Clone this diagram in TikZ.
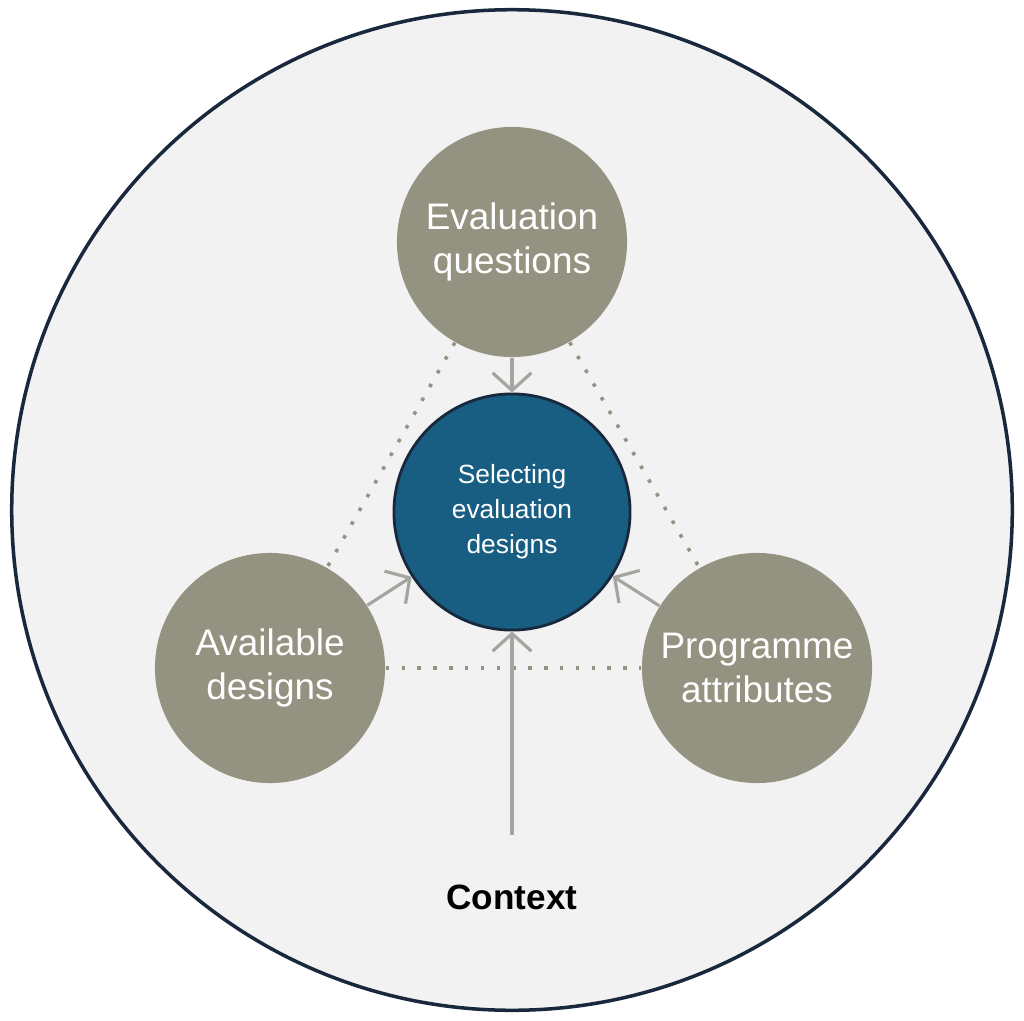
\documentclass[tikz,border=0pt]{standalone}
\usepackage{fontspec}
\setmainfont{Liberation Sans}
\usetikzlibrary{arrows.meta}
\begin{document}
\begin{tikzpicture}[
    x=0.01cm, y=-0.01cm,
    font=\rmfamily,
    factor/.style={
        circle, fill=my-olive, text=white, align=center,
        minimum size=2.3cm, inner sep=0pt, font=\rmfamily\fontsize{10.5}{12.5}\selectfont
    }, pil/.style={
        -{Straight Barb[length=5pt, width=11pt, line width=0.9pt]},
        draw=my-arrow, line width=0.9pt
    }, dots/.style={
        draw=my-olive, line width=1pt, dash pattern=on 1pt off 3.5pt
    }]
    \definecolor{my-bg}{RGB}{242, 242, 242}
    \definecolor{my-olive}{RGB}{148, 146, 128}
    \definecolor{my-blue}{RGB}{23, 94, 130}
    \definecolor{my-navy}{RGB}{25, 40, 60}
    \definecolor{my-arrow}{RGB}{165, 165, 160}

    \useasboundingbox (0,0) rectangle (1024,1021);
    \node[circle, draw=my-navy, line width=1pt, fill=my-bg, minimum size=10cm] (outer) at (512,510) {};

    %%% factors
    \node[factor] (questions) at (512,242) {Evaluation\\questions};
    \node[factor] (designs) at (270,668) {Available\\designs};
    \node[factor] (programme) at (757,668) {Programme\\attributes};
    \node[circle, draw=my-navy, line width=0.8pt, fill=my-blue, text=white, align=center,
        minimum size=2.36cm, inner sep=0pt, font=\rmfamily\fontsize{7.5}{10}\selectfont]
        (select) at (512,512) {Selecting\\evaluation\\designs};
    \node[font=\rmfamily\bfseries\fontsize{10}{12}\selectfont] (context) at (512,897) {Context};

    %%% links
    \draw[dots] (questions) -- (designs);
    \draw[dots] (questions) -- (programme);
    \draw[dots] (designs) -- (programme);

    \draw[pil] (questions) -- (select);
    \draw[pil] (designs) -- (select);
    \draw[pil] (programme) -- (select);
    \coordinate (ctx) at (512,835);
    \draw[pil] (ctx) -- (select);
\end{tikzpicture}
\end{document}
